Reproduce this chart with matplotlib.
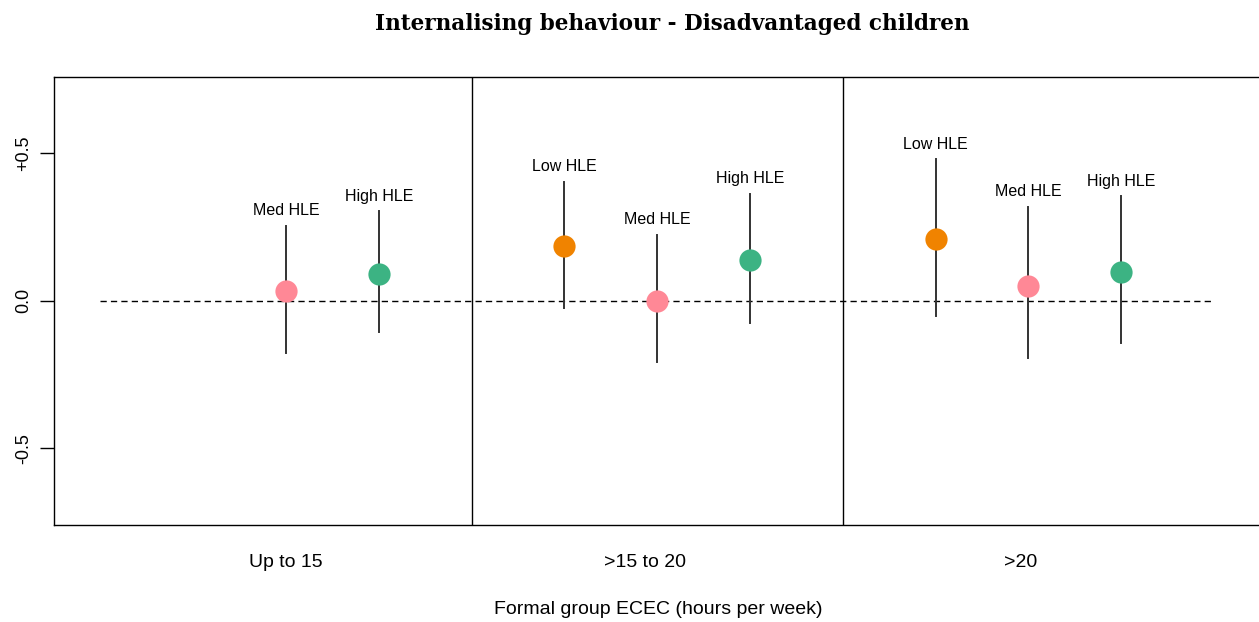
import numpy as np
import matplotlib
matplotlib.use("Agg")
import matplotlib.pyplot as plt

# Estimates with confidence limits, by ECEC hours group and home learning environment
groups = ["Up to 15", ">15 to 20", ">20"]
hle_labels = ["Low HLE", "Med HLE", "High HLE"]

# NaN where a group has no estimate
est = np.array([
    [np.nan, 0.032, 0.091],
    [0.186, 0.000, 0.137],
    [0.209, 0.051, 0.099],
])
lower = np.array([
    [np.nan, -0.177, -0.106],
    [-0.023, -0.206, -0.076],
    [-0.053, -0.194, -0.143],
])
upper = np.array([
    [np.nan, 0.254, 0.303],
    [0.404, 0.224, 0.363],
    [0.480, 0.318, 0.354],
])

hle_colors = ["#F08300", "#FF8896", "#3CB383"]
group_label_x = [2.0, 5.87, 9.92]

plt.rcParams["font.family"] = ["Liberation Sans", "DejaVu Sans"]

fig = plt.figure(figsize=(12.59, 6.22), dpi=100)
ax = fig.add_axes([54 / 1259, 97 / 622, 1205 / 1259, 448.3 / 622])

ax.plot([0, 12], [0, 0], color="black", lw=1.0, ls=(0, (4.5, 3)), zorder=1)

for g in range(len(groups)):
    for h in range(len(hle_labels)):
        if np.isnan(est[g, h]):
            continue
        x = g * 4 + h + 1
        ax.plot([x, x], [lower[g, h], upper[g, h]], color="#333333", lw=1.4, zorder=2)
        ax.plot(x, est[g, h], "o", ms=16, color=hle_colors[h], mec="none", zorder=3)
        ax.annotate(hle_labels[h], (x, upper[g, h]), xytext=(0, 11),
                    textcoords="offset points", ha="center", va="center", fontsize=11.5)

# panel separators
for xv in [4, 8]:
    ax.axvline(xv, color="black", lw=1.0)

ax.set_xlim(-0.5, 12.485)
ax.set_ylim(-0.76, 0.76)
ax.set_xticks([])
ax.set_yticks([-0.5, 0, 0.5])
ax.set_yticklabels(["-0.5", "0.0", "+0.5"], rotation=90, va="center", fontsize=13)
ax.tick_params(axis="y", length=10, width=1, pad=6)
ax.spines["right"].set_visible(False)
for s in ["left", "top", "bottom"]:
    ax.spines[s].set_linewidth(1.0)

for gx, name in zip(group_label_x, groups):
    ax.text(gx, -0.887, name, ha="center", va="center", fontsize=14)

fig.text(658 / 1259, 1 - 609 / 622, "Formal group ECEC (hours per week)",
         ha="center", va="center", fontsize=14)
fig.text(672 / 1259, 1 - 24 / 622, "Internalising behaviour - Disadvantaged children",
         ha="center", va="center", fontsize=15.5, fontweight="bold", family="DejaVu Serif")

fig.savefig("out.png", dpi=100)
